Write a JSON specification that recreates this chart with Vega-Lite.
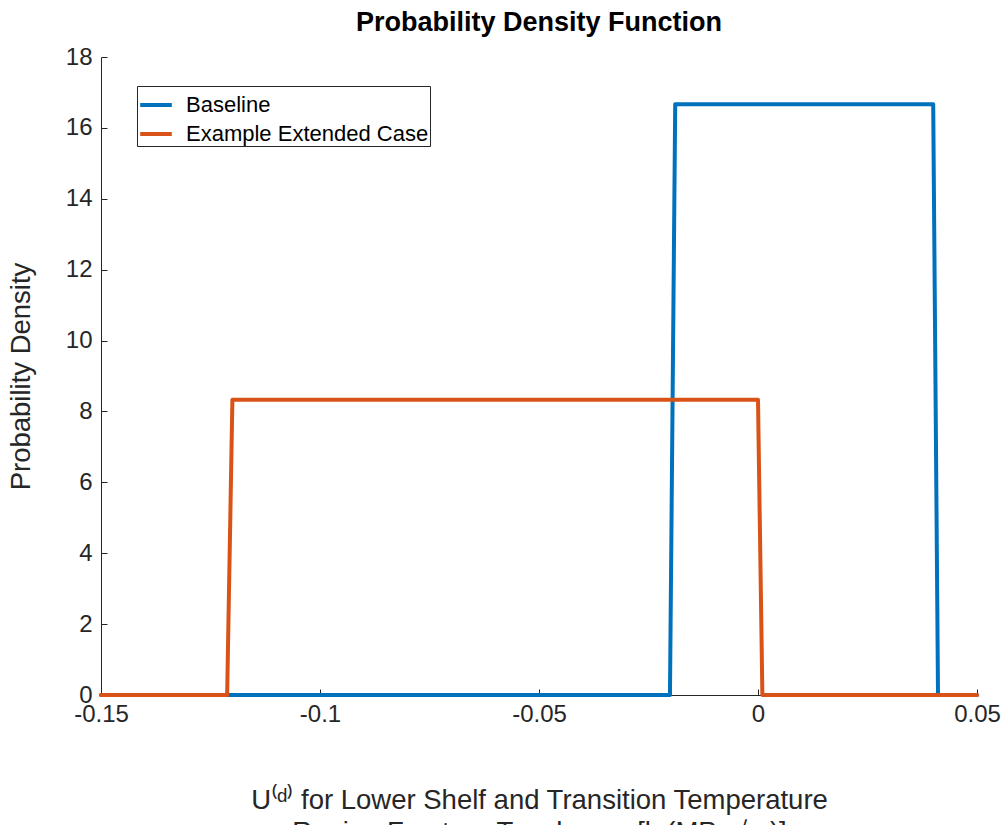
{
  "$schema": "https://vega.github.io/schema/vega-lite/v6.json",
  "autosize": "none",
  "width": 876,
  "height": 638,
  "padding": {"left": 101, "top": 57, "right": 27, "bottom": 130},
  "background": "white",
  "config": {
    "view": {"stroke": null},
    "font": "Liberation Sans",
    "axis": {
      "grid": false,
      "domainColor": "#262626",
      "domainWidth": 1,
      "tickColor": "#262626",
      "tickWidth": 1,
      "labelColor": "#262626",
      "titleColor": "#262626",
      "labelFont": "Liberation Sans",
      "titleFont": "Liberation Sans",
      "labelFontSize": 24,
      "titleFontSize": 27.5,
      "titleFontWeight": "normal",
      "labelFlush": false
    }
  },
  "title": {
    "text": "Probability Density Function",
    "font": "Liberation Sans",
    "fontSize": 27,
    "fontWeight": "bold",
    "color": "#000000",
    "anchor": "middle",
    "offset": 8
  },
  "data": {
    "values": [
      {"series": "Baseline", "i": 0, "x": -0.15, "y": 0},
      {"series": "Baseline", "i": 1, "x": -0.0201, "y": 0},
      {"series": "Baseline", "i": 2, "x": -0.0189, "y": 16.67},
      {"series": "Baseline", "i": 3, "x": 0.04, "y": 16.67},
      {"series": "Baseline", "i": 4, "x": 0.0411, "y": 0},
      {"series": "Baseline", "i": 5, "x": 0.05, "y": 0},
      {"series": "Example Extended Case", "i": 0, "x": -0.15, "y": 0},
      {"series": "Example Extended Case", "i": 1, "x": -0.1212, "y": 0},
      {"series": "Example Extended Case", "i": 2, "x": -0.12, "y": 8.33},
      {"series": "Example Extended Case", "i": 3, "x": 0, "y": 8.33},
      {"series": "Example Extended Case", "i": 4, "x": 0.001, "y": 0},
      {"series": "Example Extended Case", "i": 5, "x": 0.05, "y": 0}
    ]
  },
  "mark": {"type": "line", "strokeWidth": 4, "strokeJoin": "round", "strokeCap": "round", "clip": false},
  "encoding": {
    "x": {
      "field": "x",
      "type": "quantitative",
      "scale": {"domain": [-0.15, 0.05], "nice": false, "zero": false},
      "axis": {
        "values": [-0.15, -0.1, -0.05, 0, 0.05],
        "labelExpr": "'' + datum.value",
        "tickSize": -6,
        "labelPadding": 13,
        "titlePadding": 60,
        "title": ["U⁽ᵈ⁾ for Lower Shelf and Transition Temperature", "Region Fracture Toughness [ln(MPa√m)]"],
        "titleLineHeight": 32
      }
    },
    "y": {
      "field": "y",
      "type": "quantitative",
      "scale": {"domain": [0, 18], "nice": false},
      "axis": {
        "values": [0, 2, 4, 6, 8, 10, 12, 14, 16, 18],
        "tickSize": -6,
        "labelPadding": 15,
        "titleX": -66,
        "title": "Probability Density"
      }
    },
    "color": {
      "field": "series",
      "type": "nominal",
      "scale": {"domain": ["Baseline", "Example Extended Case"], "range": ["#0072BD", "#D95319"]},
      "legend": {
        "title": null,
        "orient": "none",
        "legendX": 36,
        "legendY": 29,
        "symbolType": "stroke",
        "symbolStrokeWidth": 4,
        "symbolSize": 1000,
        "labelFont": "Liberation Sans",
        "labelFontSize": 22,
        "labelLimit": 0,
        "labelColor": "#000000",
        "labelOffset": 12,
        "rowPadding": -4,
        "strokeColor": "#262626",
        "fillColor": "white",
        "padding": 1
      }
    },
    "order": {"field": "i", "type": "quantitative"}
  }
}
